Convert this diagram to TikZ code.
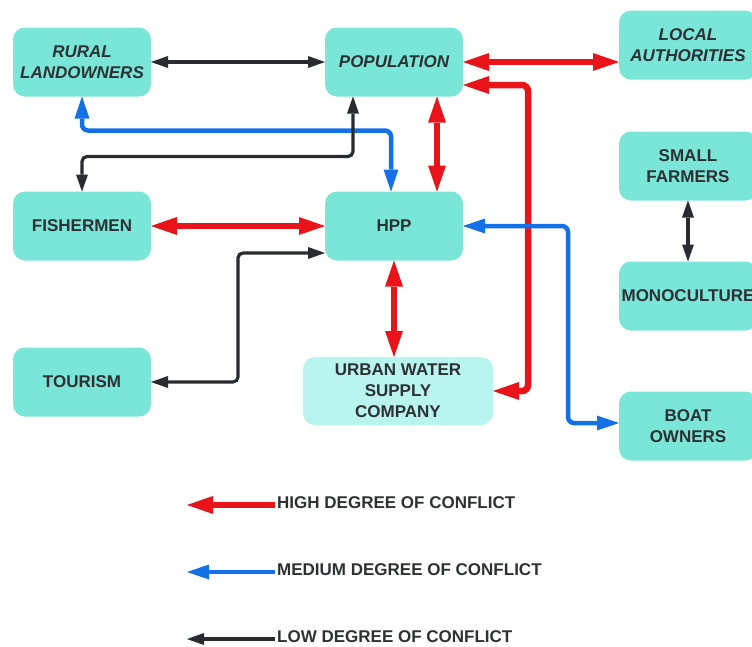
\documentclass[tikz,border=0pt]{standalone}
\usepackage{fontspec}
\setmainfont{Liberation Sans}
\usepackage{tikz}
\usetikzlibrary{arrows.meta,positioning,calc}
\definecolor{boxfill}{HTML}{7AE6D8}
\definecolor{boxlight}{HTML}{B8F5EE}
\definecolor{txtdark}{HTML}{2E3033}
\definecolor{chigh}{HTML}{E8141A}
\definecolor{cmed}{HTML}{1470E6}
\definecolor{clow}{HTML}{282B30}
\tikzset{
  actor/.style={fill=boxfill, rounded corners=12pt, text=txtdark,
                minimum width=138pt, minimum height=69pt, align=center,
                inner sep=2pt, outer sep=0pt,
                font=\bfseries\fontsize{17}{21}\selectfont},
  actorlight/.style={actor, fill=boxlight, minimum width=190pt, minimum height=68pt},
  legtext/.style={text=txtdark, anchor=west, inner sep=2pt,
                  font=\bfseries\fontsize{17}{21}\selectfont},
  high/.style={draw=chigh, line width=6.5pt, rounded corners=6pt,
               >={Triangle[length=26pt,width=18pt,line width=0pt]}, <->},
  med/.style={draw=cmed, line width=4.5pt, rounded corners=6pt,
              >={Triangle[length=22pt,width=15pt,line width=0pt]}, <->},
  low/.style={draw=clow, line width=3.2pt, rounded corners=5pt,
              >={Triangle[length=17pt,width=12pt,line width=0pt]}, <->}
}
\begin{document}
\begin{tikzpicture}[x=1pt, y=-1pt]
  \useasboundingbox (0,0) rectangle (752,646);

  % actors
  \node[actor] (rural) at (82,62) {\itshape RURAL\\\itshape LANDOWNERS};
  \node[actor] (pop) at (394,62) {\itshape POPULATION};
  \node[actor] (local) at (688,45) {\itshape LOCAL\\\itshape AUTHORITIES};
  \node[actor] (small) at (688,166) {SMALL\\FARMERS};
  \node[actor] (mono) at (688,296) {MONOCULTURE};
  \node[actor] (boat) at (688,426) {BOAT\\OWNERS};
  \node[actor] (fish) at (82,226) {FISHERMEN};
  \node[actor] (hpp) at (394,226) {HPP};
  \node[actor] (tour) at (82,382) {TOURISM};
  \node[actorlight] (uwsc) at (398,391) {URBAN WATER\\SUPPLY\\COMPANY};

  % conflicts
  \draw[low] (rural.east) -- (pop.west);
  \draw[high] (pop.east) -- (pop.east -| local.west);
  \draw[high] (uwsc.east) -| (528,85) -- ([yshift=-23pt]pop.east);
  \draw[high] ([xshift=43pt]pop.south) -- ([xshift=43pt]hpp.north);
  \draw[med] (rural.south) -- ++(0,34) -| ([xshift=-3pt]hpp.north);
  \draw[low] ([xshift=-41pt]pop.south) -- ++(0,60) -| (fish.north);
  \draw[high] (fish.east) -- (hpp.west);
  \draw[low] (tour.east) -| (238,253) -- ([yshift=-27pt]hpp.west);
  \draw[high] (hpp.south) -- (hpp.south |- uwsc.north);
  \draw[med] (hpp.east) -| (568,423) -- ([yshift=3pt]boat.west);
  \draw[low] (small.south) -- (mono.north);

  % legend
  \node[legtext] (lhigh) at (275,503) {HIGH DEGREE OF CONFLICT};
  \node[legtext] (lmed) at (275,570) {MEDIUM DEGREE OF CONFLICT};
  \node[legtext] (llow) at (275,637) {LOW DEGREE OF CONFLICT};
  \coordinate (ehigh) at (187,505);
  \coordinate (emed) at (187,572);
  \coordinate (elow) at (187,639);
  \draw[high, <-, rounded corners=0pt] (ehigh) -- (ehigh -| lhigh.west);
  \draw[med, <-, rounded corners=0pt] (emed) -- (emed -| lmed.west);
  \draw[low, <-, rounded corners=0pt] (elow) -- (elow -| llow.west);
\end{tikzpicture}
\end{document}
